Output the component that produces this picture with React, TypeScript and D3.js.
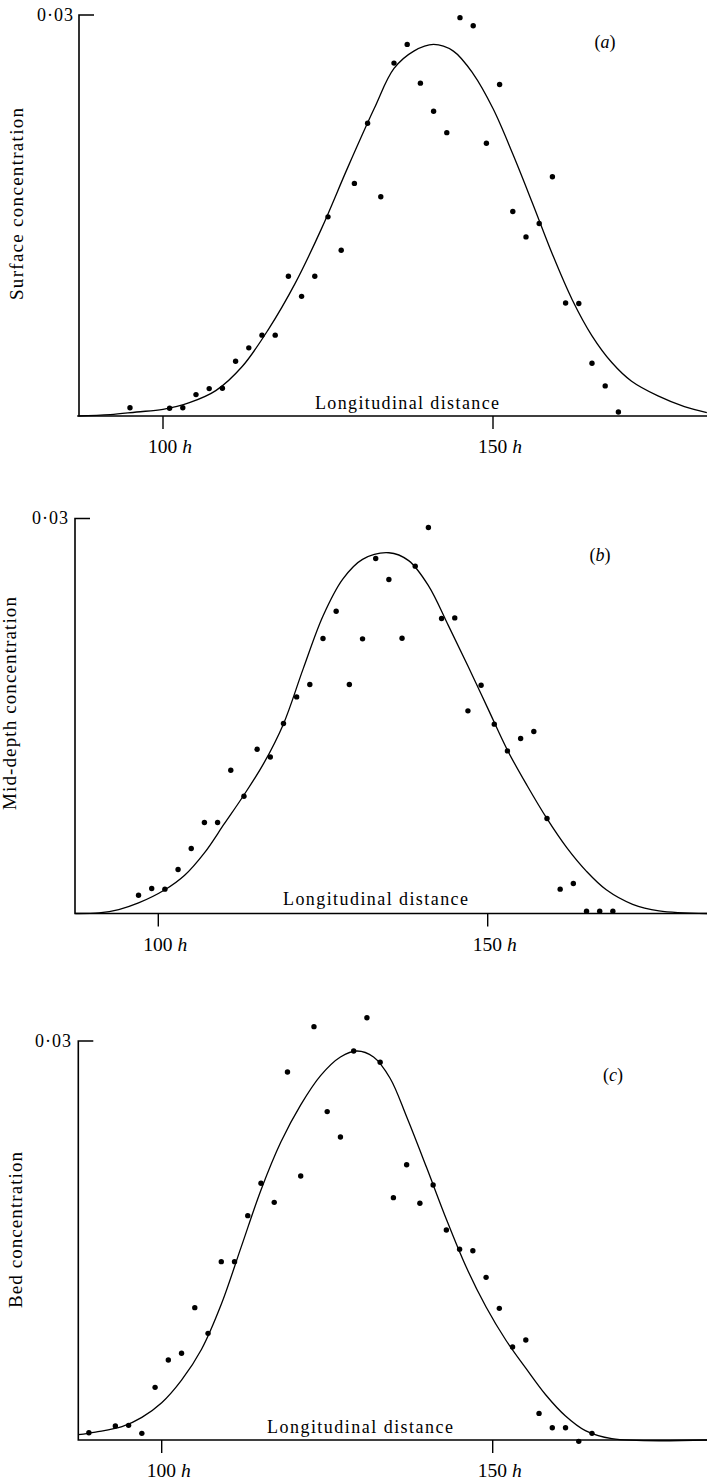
import React from 'react';
import * as d3 from 'd3';

// ---------- data ----------
const panelTags = ['a', 'b', 'c'];
const yAxisTitles = ['Surface concentration', 'Mid-depth concentration', 'Bed concentration'];
const xAxisTitle = 'Longitudinal distance';
const yTickLabel = '0·03';
const yMax = 0.03;
const xTickValues = [100, 150];
const xTickLabels = ['100', '150'];

const surfaceX = [95, 101, 103, 105, 107, 109, 111, 113, 115, 117, 119, 121, 123, 125, 127, 129, 131, 133, 135, 137, 139, 141, 143, 145, 147, 149, 151, 153, 155, 157, 159, 161, 163, 165, 167, 169];
const surfaceY = [0.00062, 0.00058, 0.00062, 0.0016, 0.00205, 0.00208, 0.0041, 0.0051, 0.00605, 0.00605, 0.01045, 0.00895, 0.01045, 0.0149, 0.0124, 0.0174, 0.0219, 0.0164, 0.0264, 0.0278, 0.0249, 0.0228, 0.0212, 0.0298, 0.0292, 0.0204, 0.0248, 0.0153, 0.0134, 0.0144, 0.0179, 0.00845, 0.00842, 0.00395, 0.00225, 0.0003];

const midX = [97, 99, 101, 103, 105, 107, 109, 111, 113, 115, 117, 119, 121, 123, 125, 127, 129, 131, 133, 135, 137, 139, 141, 143, 145, 147, 149, 151, 153, 155, 157, 159, 161, 163, 165, 167, 169];
const midY = [0.00139, 0.0019, 0.00185, 0.00334, 0.00494, 0.00691, 0.00691, 0.01088, 0.00891, 0.01248, 0.01189, 0.01443, 0.01645, 0.01739, 0.02089, 0.02296, 0.01739, 0.02086, 0.02696, 0.02537, 0.02091, 0.02638, 0.02932, 0.0224, 0.02245, 0.01539, 0.01734, 0.01438, 0.01235, 0.01329, 0.01382, 0.00722, 0.00185, 0.00228, 0.00017, 0.00017, 0.00017];

const bedX = [89, 93, 95, 97, 99, 101, 103, 105, 107, 109, 111, 113, 115, 117, 119, 121, 123, 125, 127, 129, 131, 133, 135, 137, 139, 141, 143, 145, 147, 149, 151, 153, 155, 157, 159, 161, 163, 165];
const bedY = [0.00055, 0.00105, 0.0011, 0.0005, 0.00396, 0.00602, 0.00652, 0.00995, 0.00802, 0.01341, 0.01341, 0.01687, 0.0193, 0.01787, 0.02767, 0.01985, 0.03108, 0.02469, 0.02278, 0.02925, 0.03175, 0.0284, 0.01822, 0.0207, 0.0178, 0.01917, 0.01579, 0.01434, 0.01423, 0.01223, 0.0099, 0.00699, 0.00752, 0.002, 0.00092, 0.00092, -0.0001, 0.0005];

// theoretical curves
const surfaceCurveX = [87, 92, 96, 100, 104, 108, 112, 116, 120, 124, 128, 132, 135, 138, 141, 144, 147, 150, 153, 156, 159, 162, 165, 168, 171, 175, 179, 182.4];
const surfaceCurveY = [0, 0.0001, 0.0003, 0.0005, 0.001, 0.0019, 0.0037, 0.0065, 0.0099, 0.014, 0.0186, 0.023, 0.026, 0.0273, 0.0278, 0.0273, 0.0256, 0.023, 0.0196, 0.0159, 0.0121, 0.0087, 0.006, 0.004, 0.0026, 0.0015, 0.0007, 0.00025];

const midCurveX = [87.4, 91, 94, 97, 101, 104, 107, 110, 113, 116, 119, 122, 125, 128, 131, 135, 138, 141, 144, 147, 150, 153, 156, 159, 162, 165, 168, 172, 176, 183.3];
const midCurveY = [0, 0.00005, 0.0003, 0.0008, 0.0018, 0.0029, 0.0046, 0.0068, 0.009, 0.0114, 0.0144, 0.0186, 0.0226, 0.0254, 0.0269, 0.0274, 0.0268, 0.0249, 0.0219, 0.0188, 0.0156, 0.0124, 0.0097, 0.0072, 0.005, 0.0032, 0.0018, 0.0007, 0.0002, 0];

const bedCurveX = [87.4, 90, 94, 97, 100, 103, 106, 109, 112, 115, 118, 121, 124, 127, 129.5, 132, 134.5, 137, 140, 143, 146, 149, 152, 155, 158, 161, 164, 168, 182.4];
const bedCurveY = [0.0004, 0.0006, 0.001, 0.0017, 0.0028, 0.0045, 0.0068, 0.0102, 0.0145, 0.0188, 0.0224, 0.0252, 0.0274, 0.0288, 0.02925, 0.0288, 0.0272, 0.0243, 0.0205, 0.0166, 0.013, 0.01, 0.0075, 0.0054, 0.0034, 0.0018, 0.0007, 0.0001, 0];

const pointSets = [
  { x: surfaceX, y: surfaceY },
  { x: midX, y: midY },
  { x: bedX, y: bedY },
];
const curveSets = [
  { x: surfaceCurveX, y: surfaceCurveY },
  { x: midCurveX, y: midCurveY },
  { x: bedCurveX, y: bedCurveY },
];

// ---------- layout ----------
const W = 707;
const H = 1483;
const layouts = [
  { px100: 163, px150: 493, base: 416, top: 15, axisX: 79, yLabX: 23, yLabY: 204, yLabLen: 192, topLabEnd: 73, topLabBase: 21, tagX: 605, tagY: 48, xtX: 315, xtLen: 184, xtBase: 409 },
  { px100: 158.3, px150: 487.7, base: 913.5, top: 518.5, axisX: 75, yLabX: 16, yLabY: 703.5, yLabLen: 213, topLabEnd: 68, topLabBase: 524, tagX: 600, tagY: 561, xtX: 283, xtLen: 185, xtBase: 905 },
  { px100: 161.7, px150: 492.7, base: 1440, top: 1041, axisX: 78.3, yLabX: 22, yLabY: 1230, yLabLen: 156, topLabEnd: 71, topLabBase: 1046.5, tagX: 613, tagY: 1081, xtX: 267, xtLen: 186, xtBase: 1433 },
];

const FONT = '"Liberation Serif", "Times New Roman", serif';

function Panel({ i }: { i: number }) {
  const L = layouts[i];
  const x = d3.scaleLinear().domain([100, 150]).range([L.px100, L.px150]);
  const y = d3.scaleLinear().domain([0, yMax]).range([L.base, L.top]);
  const pts = pointSets[i];
  const cv = curveSets[i];
  const curveData = cv.x.map((v, k) => [v, cv.y[k]] as [number, number]);
  const line = d3
    .line<[number, number]>()
    .x((d) => x(d[0]))
    .y((d) => y(d[1]))
    .curve(d3.curveCatmullRom.alpha(0.5));
  return (
    <g>
      <path
        d={`M${L.axisX + 15},${y(yMax)} H${L.axisX} V${L.base} H${W}`}
        fill="none"
        stroke="#000"
        strokeWidth={1.6}
      />
      {xTickValues.map((t, k) => (
        <g key={t}>
          <line x1={x(t)} x2={x(t)} y1={L.base} y2={L.base + 13} stroke="#000" strokeWidth={1.4} />
          <text x={x(t) + 7} y={L.base + 37} textAnchor="middle" fontSize={19.5} fontFamily={FONT}>
            {xTickLabels[k]}
            <tspan fontStyle="italic" dx={5}>h</tspan>
          </text>
        </g>
      ))}
      <text
        x={L.topLabEnd}
        y={L.topLabBase}
        textAnchor="end"
        fontSize={18}
        fontFamily={FONT}
        textLength={36}
        lengthAdjust="spacing"
      >
        {yTickLabel}
      </text>
      <text
        transform={`translate(${L.yLabX},${L.yLabY}) rotate(-90)`}
        textAnchor="middle"
        fontSize={19}
        fontFamily={FONT}
        textLength={L.yLabLen}
        lengthAdjust="spacing"
      >
        {yAxisTitles[i]}
      </text>
      <text
        x={L.xtX}
        y={L.xtBase}
        fontSize={18}
        fontFamily={FONT}
        textLength={L.xtLen}
        lengthAdjust="spacing"
      >
        {xAxisTitle}
      </text>
      <text x={L.tagX} y={L.tagY} textAnchor="middle" fontSize={18} fontFamily={FONT}>
        (<tspan fontStyle="italic">{panelTags[i]}</tspan>)
      </text>
      <path d={line(curveData) || ''} fill="none" stroke="#000" strokeWidth={1.3} />
      {pts.x.map((v, k) => (
        <circle key={k} cx={x(v)} cy={y(pts.y[k])} r={2.7} fill="#000" />
      ))}
    </g>
  );
}

export default function App() {
  return (
    <svg
      width={W}
      height={H}
      viewBox={`0 0 ${W} ${H}`}
      style={{ position: 'absolute', left: 0, top: 0, background: '#fff' }}
    >
      <rect x={0} y={0} width={W} height={H} fill="#fff" />
      {layouts.map((_, i) => (
        <Panel key={i} i={i} />
      ))}
    </svg>
  );
}
